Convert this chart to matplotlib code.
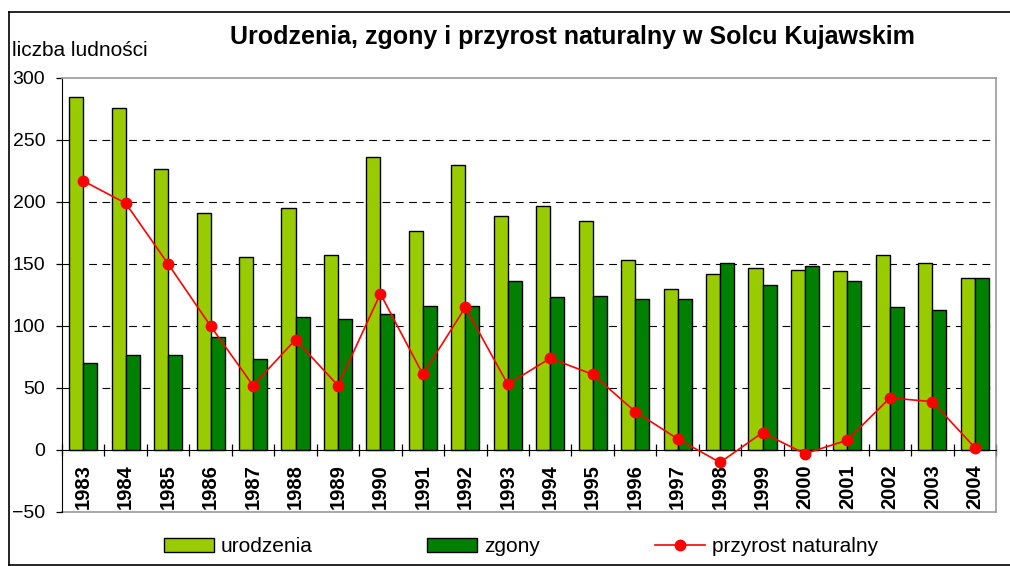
import matplotlib
matplotlib.use("Agg")
import matplotlib.pyplot as plt
from matplotlib.lines import Line2D
import numpy as np

plt.rcParams["font.family"] = ["Liberation Sans", "DejaVu Sans"]

years = ["1983", "1984", "1985", "1986", "1987", "1988", "1989", "1990",
         "1991", "1992", "1993", "1994", "1995", "1996", "1997", "1998",
         "1999", "2000", "2001", "2002", "2003", "2004"]
urodzenia = [285, 276, 227, 191, 156, 195, 157, 236, 177, 230, 189,
             197, 185, 153, 130, 142, 147, 145, 144, 157, 151, 139]
zgony = [70, 77, 77, 91, 73, 107, 106, 110, 116, 116, 136,
         123, 124, 122, 122, 151, 133, 148, 136, 115, 113, 139]
przyrost = [217, 199, 150, 100, 52, 89, 52, 126, 61, 115, 53,
            74, 61, 31, 9, -10, 14, -3, 8, 42, 39, 2]

W, H = 1010, 566
fig = plt.figure(figsize=(W / 100, H / 100), dpi=100)
ax = fig.add_axes([62 / W, 1 - 512 / H, (996 - 62) / W, (512 - 78) / H])

x = np.arange(len(years))
bw = 0.33

# dashed grid behind bars
for v in [50, 100, 150, 200, 250]:
    ax.axhline(v, color="black", lw=0.8, ls=(0, (7, 5)), zorder=0)

ax.bar(x - bw / 2, urodzenia, bw, color="#99CC00", edgecolor="black",
       linewidth=1.0, zorder=2, label="urodzenia")
ax.bar(x + bw / 2, zgony, bw, color="#008000", edgecolor="black",
       linewidth=1.0, zorder=2, label="zgony")
ax.plot(x, przyrost, color="#FF0000", lw=1.2, marker="o", markersize=7.5,
        zorder=4, clip_on=False, label="przyrost naturalny")

ax.set_xlim(-0.5, len(years) - 0.5)
ax.set_ylim(-50, 300)
ax.set_yticks(range(-50, 301, 50))

ax.spines["bottom"].set_position(("data", 0))
ax.spines["bottom"].set_color("black")
for s in ["top", "right"]:
    ax.spines[s].set_color("#999999")
    ax.spines[s].set_linewidth(1.2)
ax.axhline(-50, color="#999999", lw=1.2, clip_on=False, zorder=1)

ax.set_xticks(x)
ax.set_xticklabels(years, rotation=90, fontweight="bold", fontsize=14.5)
ax.set_xticks(np.arange(-0.5, len(years), 1.0), minor=True)
ax.tick_params(axis="x", which="major", length=0, pad=10)
ax.tick_params(axis="x", which="minor", length=8, direction="inout",
               width=0.9)
ax.tick_params(axis="y", length=4, width=0.9, pad=8, labelsize=14)

fig.text(572 / W, 1 - 37 / H, "Urodzenia, zgony i przyrost naturalny w Solcu Kujawskim",
         ha="center", va="center", fontsize=18, fontweight="bold")
fig.text(12 / W, 1 - 51 / H, "liczba ludności", ha="left", va="center",
         fontsize=15)

handles = [
    plt.Rectangle((0, 0), 1, 1, facecolor="#99CC00", edgecolor="black", lw=1.0),
    plt.Rectangle((0, 0), 1, 1, facecolor="#008000", edgecolor="black", lw=1.0),
    Line2D([], [], color="#FF0000", lw=1.2, marker="o", markersize=7.5),
]
fig.legend(handles, ["urodzenia", "zgony", "przyrost naturalny"],
           loc="center", bbox_to_anchor=(521 / W, 1 - 547 / H), ncol=3,
           frameon=False, fontsize=15, handlelength=2.4, handleheight=0.63,
           handletextpad=0.34, columnspacing=5.5)

# outer frame
fig.add_artist(Line2D([9 / W, 9 / W], [1 - 12 / H, 1 - 565 / H],
                      color="black", lw=1.2, transform=fig.transFigure))
fig.add_artist(Line2D([9 / W, 1], [1 - 12 / H, 1 - 12 / H],
                      color="black", lw=1.2, transform=fig.transFigure))
fig.add_artist(Line2D([9 / W, 1], [1 - 565 / H, 1 - 565 / H],
                      color="black", lw=1.2, transform=fig.transFigure))

fig.savefig("out.png", dpi=100)
